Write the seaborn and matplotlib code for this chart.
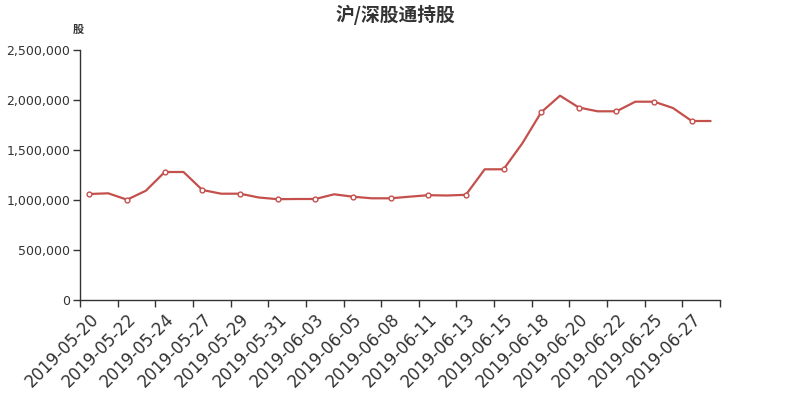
import numpy as np
import pandas as pd
import matplotlib
matplotlib.use("Agg")
import matplotlib.pyplot as plt
import seaborn as sns

# Trading days (Stock Connect holdings), one point per day
dates = [
    "2019-05-20", "2019-05-21", "2019-05-22", "2019-05-23", "2019-05-24", "2019-05-25",
    "2019-05-27", "2019-05-28", "2019-05-29", "2019-05-30", "2019-05-31", "2019-06-01",
    "2019-06-03", "2019-06-04", "2019-06-05", "2019-06-06", "2019-06-08", "2019-06-10",
    "2019-06-11", "2019-06-12", "2019-06-13", "2019-06-14", "2019-06-15", "2019-06-17",
    "2019-06-18", "2019-06-19", "2019-06-20", "2019-06-21", "2019-06-22", "2019-06-24",
    "2019-06-25", "2019-06-26", "2019-06-27", "2019-06-28",
]
holdings = [
    1060000, 1067000, 1003000, 1093000, 1280000, 1280000,
    1100000, 1063000, 1063000, 1025000, 1008000, 1010000,
    1010000, 1057000, 1033000, 1017000, 1017000, 1033000,
    1048000, 1045000, 1052000, 1307000, 1307000, 1567000,
    1877000, 2043000, 1925000, 1887000, 1887000, 1983000,
    1983000, 1920000, 1790000, 1790000,
]

title = "沪/深股通持股"
unit = "股"
line_color = "#c4504c"
text_color = "#333333"

sns.set_style("white")
plt.rcParams['font.family'] = ['DejaVu Sans', 'Noto Sans CJK SC']

df = pd.DataFrame({"idx": np.arange(len(dates)), "date": dates, "shares": holdings})

fig = plt.figure(figsize=(8, 4), dpi=100)
ax = fig.add_axes([0.10, 0.25, 0.80, 0.625])

sns.lineplot(data=df, x="idx", y="shares", ax=ax, color=line_color, linewidth=1.6)
marked = df.iloc[::2]
ax.scatter(marked["idx"], marked["shares"], s=12, facecolor="white",
           edgecolor=line_color, linewidth=1.0, zorder=3)

n = len(dates)
ax.set_xlim(-0.5, n - 0.5)
ax.set_ylim(0, 2500000)
ax.set_yticks(np.arange(0, 2500001, 500000))
ax.yaxis.set_major_formatter(matplotlib.ticker.FuncFormatter(lambda v, p: f"{int(v):,}"))

# labels at band centres (every other day), tick marks at band boundaries
ax.set_xticks(np.arange(0, n, 2))
ax.set_xticklabels(dates[::2], rotation=45, ha="right", rotation_mode="anchor",
                   fontsize=12, color=text_color)
ax.set_xticks(np.arange(-0.5, n, 2), minor=True)
ax.tick_params(axis="x", which="major", bottom=True, length=0, pad=7)
ax.tick_params(axis="x", which="minor", bottom=True, length=5, width=1,
               color=text_color, direction="out")
ax.tick_params(axis="y", left=True, length=5, width=1, color=text_color, direction="out",
               labelsize=9, labelcolor=text_color, pad=2)

for side in ["top", "right"]:
    ax.spines[side].set_visible(False)
for side in ["left", "bottom"]:
    ax.spines[side].set_color(text_color)
    ax.spines[side].set_linewidth(1)

ax.set_xlabel("")
ax.set_ylabel("")
ax.grid(False)

fig.text(0.494, 0.962, title, ha="center", va="center", fontsize=13.5,
         fontweight="bold", color=text_color, family=['Noto Sans CJK SC', 'DejaVu Sans'])
fig.text(0.098, 0.927, unit, ha="center", va="center", fontsize=8,
         fontweight="bold", color=text_color, family=['Noto Sans CJK SC', 'DejaVu Sans'])

fig.savefig("out.png", dpi=100, facecolor="white")
